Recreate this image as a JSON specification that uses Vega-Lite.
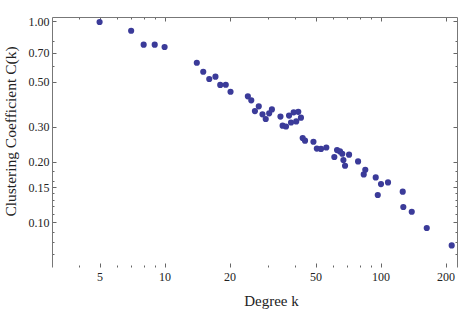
{
  "$schema": "https://vega.github.io/schema/vega-lite/v6.json",
  "width": 405,
  "height": 250,
  "autosize": {"type": "none"},
  "padding": {"left": 52, "top": 17, "right": 6, "bottom": 44},
  "data": {"values": [
    {"k": 5, "C": 0.993}, {"k": 7, "C": 0.899}, {"k": 8, "C": 0.766}, {"k": 9, "C": 0.766},
    {"k": 10, "C": 0.746}, {"k": 14.1, "C": 0.623}, {"k": 15.1, "C": 0.562}, {"k": 16.1, "C": 0.517},
    {"k": 17.2, "C": 0.531}, {"k": 18.1, "C": 0.483}, {"k": 19.2, "C": 0.484}, {"k": 20.2, "C": 0.447},
    {"k": 24.3, "C": 0.424}, {"k": 25.2, "C": 0.405}, {"k": 26.2, "C": 0.358}, {"k": 27.3, "C": 0.378},
    {"k": 28.4, "C": 0.345}, {"k": 29.4, "C": 0.327}, {"k": 30.5, "C": 0.349}, {"k": 31.4, "C": 0.365},
    {"k": 34.4, "C": 0.336}, {"k": 35.2, "C": 0.303}, {"k": 36.5, "C": 0.300}, {"k": 37.7, "C": 0.340},
    {"k": 38.5, "C": 0.314}, {"k": 39.6, "C": 0.353}, {"k": 40.7, "C": 0.318}, {"k": 41.6, "C": 0.355},
    {"k": 42.8, "C": 0.332}, {"k": 43.6, "C": 0.263}, {"k": 44.7, "C": 0.255}, {"k": 48.9, "C": 0.252},
    {"k": 50.7, "C": 0.233}, {"k": 53.0, "C": 0.232}, {"k": 56.1, "C": 0.236}, {"k": 61.1, "C": 0.2115},
    {"k": 62.9, "C": 0.229}, {"k": 64.9, "C": 0.2255}, {"k": 66.5, "C": 0.2197}, {"k": 67.3, "C": 0.2043},
    {"k": 68.5, "C": 0.1914}, {"k": 71.5, "C": 0.2172}, {"k": 78.7, "C": 0.2011}, {"k": 83.6, "C": 0.1733},
    {"k": 85.0, "C": 0.1829}, {"k": 95.0, "C": 0.1674}, {"k": 97.1, "C": 0.1369}, {"k": 100.5, "C": 0.1552},
    {"k": 108.3, "C": 0.1581}, {"k": 126.7, "C": 0.1422}, {"k": 127.5, "C": 0.1193}, {"k": 139.5, "C": 0.113},
    {"k": 163.7, "C": 0.0938}, {"k": 213.6, "C": 0.0768}
  ]},
  "layer": [
    {
      "mark": {"type": "circle", "size": 38, "color": "#3b3b99", "opacity": 1},
      "encoding": {
        "x": {
          "field": "k", "type": "quantitative",
          "scale": {"type": "log", "domain": [3.01, 226], "nice": false, "zero": false},
          "axis": {
            "orient": "bottom",
            "title": "Degree k",
            "values": [4, 5, 6, 7, 8, 9, 10, 20, 30, 40, 50, 60, 70, 80, 90, 100, 200],
            "labelExpr": "indexof([5,10,20,50,100,200], datum.value) >= 0 ? format(datum.value, 'd') : ''",
            "domain": false,
            "grid": false,
            "ticks": true,
            "tickSize": {"condition": {"test": "indexof([5,10,20,50,100,200], datum.value) >= 0", "value": -4}, "value": -2},
            "tickColor": "#666",
            "labelPadding": 8,
            "labelFont": "Liberation Serif", "labelFontSize": 12, "labelColor": "#222",
            "labelFlush": false, "labelOverlap": false,
            "titleFont": "Liberation Serif", "titleFontSize": 15, "titleFontWeight": "normal", "titleColor": "#222",
            "titleX": 219, "titleY": 26
          }
        },
        "y": {
          "field": "C", "type": "quantitative",
          "scale": {"type": "log", "domain": [0.060, 1.052], "nice": false, "zero": false},
          "axis": {
            "orient": "left",
            "title": "Clustering Coefficient C(k)",
            "values": [0.07, 0.08, 0.09, 0.1, 0.11, 0.12, 0.13, 0.14, 0.15, 0.16, 0.18, 0.2, 0.3, 0.5, 0.6, 0.7, 0.8, 1],
            "labelExpr": "indexof([0.1,0.15,0.2,0.3,0.5,0.7,1], datum.value) >= 0 ? format(datum.value, '.2f') : ''",
            "domain": true, "domainColor": "#777",
            "grid": false,
            "tickSize": {"condition": {"test": "indexof([0.1,0.15,0.2,0.3,0.5,0.7,1], datum.value) >= 0", "value": -4}, "value": -2},
            "tickColor": "#666",
            "labelPadding": 7,
            "labelFont": "Liberation Serif", "labelFontSize": 12, "labelColor": "#222",
            "labelFlush": false, "labelOverlap": false,
            "titleFont": "Liberation Serif", "titleFontSize": 15.5, "titleFontWeight": "normal", "titleColor": "#222",
            "titleX": -34, "titleY": 114
          }
        }
      }
    },
    {
      "mark": {"type": "circle", "opacity": 0},
      "encoding": {
        "x": {
          "field": "k", "type": "quantitative",
          "scale": {"type": "log", "domain": [3.01, 226], "nice": false, "zero": false},
          "axis": {
            "orient": "top", "title": null, "labels": false, "grid": false,
            "values": [4, 5, 6, 7, 8, 9, 10, 20, 30, 40, 50, 60, 70, 80, 90, 100, 200],
            "tickSize": {"condition": {"test": "indexof([5,10,20,50,100,200], datum.value) >= 0", "value": -4}, "value": -2},
            "tickColor": "#666", "domainColor": "#777"
          }
        },
        "y": {
          "field": "C", "type": "quantitative",
          "scale": {"type": "log", "domain": [0.060, 1.052], "nice": false, "zero": false},
          "axis": {
            "orient": "right", "title": null, "labels": false, "grid": false,
            "values": [0.07, 0.08, 0.09, 0.1, 0.11, 0.12, 0.13, 0.14, 0.15, 0.16, 0.18, 0.2, 0.3, 0.5, 0.6, 0.7, 0.8, 1],
            "tickSize": {"condition": {"test": "indexof([0.1,0.15,0.2,0.3,0.5,0.7,1], datum.value) >= 0", "value": -4}, "value": -2},
            "tickColor": "#666", "domainColor": "#777"
          }
        }
      }
    }
  ],
  "resolve": {"axis": {"x": "independent", "y": "independent"}},
  "config": {"view": {"stroke": null}, "background": "white"}
}
